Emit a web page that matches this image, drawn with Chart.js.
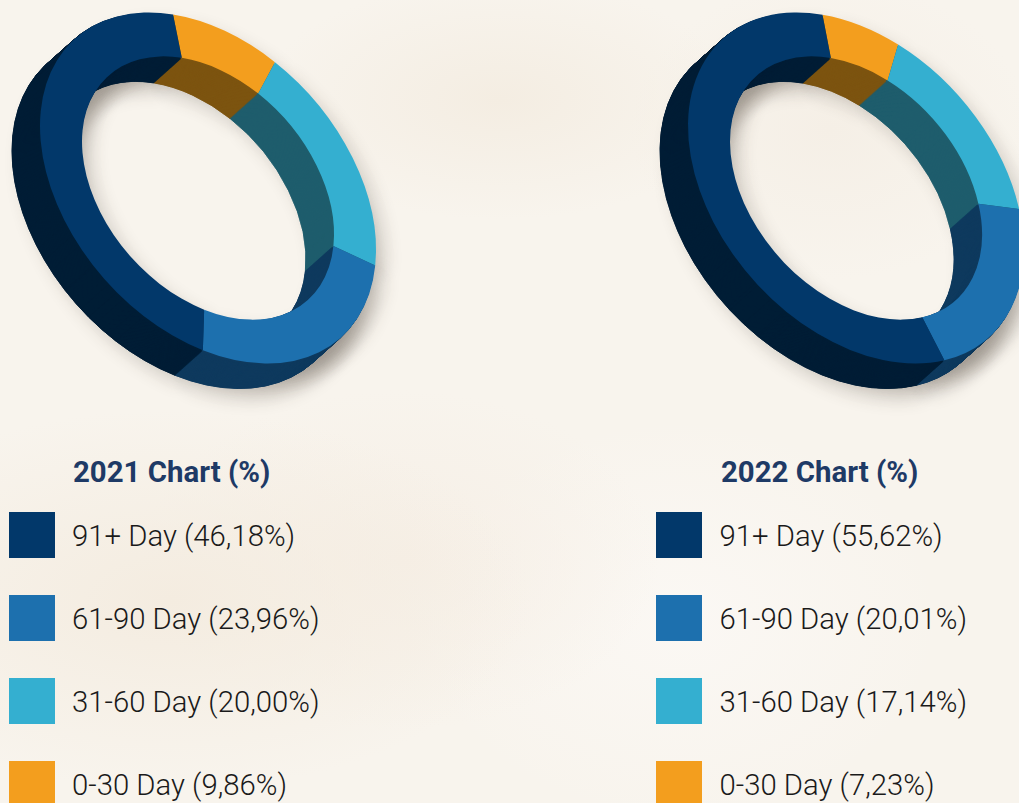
<!DOCTYPE html>
<html><head><meta charset="utf-8">
<script src="https://cdn.jsdelivr.net/npm/chart.js@4"></script>
<style>
html,body{margin:0;padding:0;width:1019px;height:803px;overflow:hidden}
body{position:relative;font-family:Roboto,sans-serif;background:
 radial-gradient(ellipse 240px 120px at 500px 100px,#f4ede2 0%,rgba(244,237,226,0) 100%),
 radial-gradient(ellipse 200px 150px at 830px 130px,#f5efe6 0%,rgba(245,239,230,0) 100%),
 radial-gradient(ellipse 360px 190px at 170px 600px,#f4ece0 0%,rgba(244,236,224,0) 100%),
 radial-gradient(ellipse 260px 170px at 400px 560px,#f6efe6 0%,rgba(246,239,230,0) 100%),
 radial-gradient(ellipse 260px 200px at 680px 620px,#fbf8f4 0%,rgba(251,248,244,0) 100%),
 #f8f4ed}
canvas{position:absolute;top:0}
#c1{left:0}#c2{left:510px}
.ttl{position:absolute;top:455px;font-weight:700;font-size:29.4px;line-height:34px;color:#1e3a66;white-space:nowrap}
.sw{position:absolute;width:46px;height:46px}
.lb{position:absolute;font-weight:300;font-size:29.3px;line-height:34px;color:#1a1a1a;white-space:nowrap}
</style></head><body>
<canvas id="c1" width="500" height="420"></canvas>
<canvas id="c2" width="509" height="420"></canvas>
<script>
const legendNames = ['91+ Day','61-90 Day','31-60 Day','0-30 Day'];
const values2021 = [46.18,23.96,20.00,9.86];
const labels2021 = ['46,18%','23,96%','20,00%','9,86%'];
const values2022 = [55.62,20.01,17.14,7.23];
const labels2022 = ['55,62%','20,01%','17,14%','7,23%'];
const topColors = ['#02386a','#1d70ae','#34afd0','#f39e1e'];
const sideColors = ['#001d35','#0f3a5e','#1e5d6c','#7c5410'];
const rev = a => a.slice().reverse();

const tilt3d = {
  id:'tilt3d',
  beforeDatasetsDraw(chart,args,o){
    const ctx = chart.ctx, arcs = chart.getDatasetMeta(0).data;
    const ctr = arcs[0], R = ctr.outerRadius, cx = ctr.x, cy = ctr.y;
    const place = (sx,sy)=>{
      ctx.setTransform(1,0,0,1,0,0);
      ctx.translate(o.cx+sx,o.cy+sy);
      ctx.transform(168/R,62/R,0,164.2/R,0,0);
      ctx.translate(-cx,-cy);
    };
    const paint = ()=>{
      arcs.forEach((a,i)=>{
        const keep = a.options;
        a.options = {backgroundColor:o.side[i],borderColor:o.side[i],borderWidth:0.8,borderAlign:'center',
          borderJoinStyle:'round',borderRadius:0,spacing:0,offset:0,circular:true,borderDash:[],borderDashOffset:0};
        a.draw(ctx);
        a.options = keep;
      });
    };
    ctx.save();
    ctx.shadowColor='rgba(60,50,40,0.2)';ctx.shadowBlur=18;ctx.shadowOffsetX=10;ctx.shadowOffsetY=10;
    place(-28,25);paint();place(-14,12.5);paint();place(-1.5,1.3);paint();
    ctx.shadowColor='transparent';ctx.shadowBlur=0;ctx.shadowOffsetX=0;ctx.shadowOffsetY=0;
    const n=56;
    for(let k=0;k<=n;k++){const f=1-k/n*0.95;place(-28*f,25*f);paint();}
    ctx.restore();
    ctx.save();
    place(0,0);
  },
  afterDatasetsDraw(chart){chart.ctx.restore();}
};

function ring(id,vals,rot,cx,cy){
  new Chart(document.getElementById(id),{
    type:'doughnut',
    data:{labels:rev(legendNames),datasets:[{data:rev(vals),backgroundColor:rev(topColors),borderWidth:0,clip:false}]},
    options:{responsive:false,animation:false,cutout:'75%',rotation:rot,events:[],
      layout:{padding:0},
      plugins:{legend:{display:false},tooltip:{enabled:false},
        tilt3d:{cx,cy,side:rev(sideColors)}}},
    plugins:[tilt3d]
  });
}
ring('c1',values2021,-12,208,188);
ring('c2',values2022,-11.5,346,188);

function legend(title,labels,tx,sx,lx){
  const add=(c,t,css)=>{const d=document.createElement('div');d.className=c;if(t)d.textContent=t;Object.assign(d.style,css);document.body.appendChild(d);};
  add('ttl',title,{left:tx+'px'});
  legendNames.forEach((n,i)=>{
    const y=512+83*i;
    add('sw','',{left:sx+'px',top:y+'px',background:topColors[i]});
    add('lb',n+' ('+labels[i]+')',{left:lx+'px',top:(y+7)+'px'});
  });
}
legend('2021 Chart (%)',labels2021,73,9,72);
legend('2022 Chart (%)',labels2022,721,656,719.5);
</script>
</body></html>
